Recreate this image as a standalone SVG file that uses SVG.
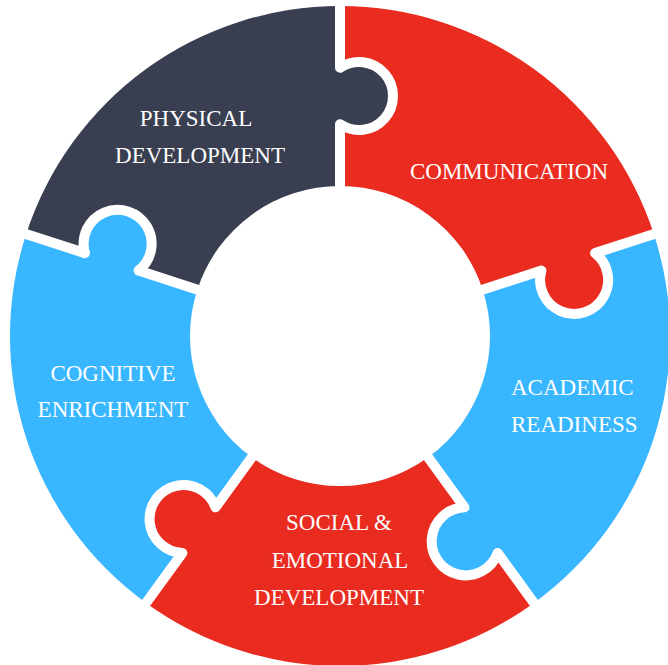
<svg xmlns="http://www.w3.org/2000/svg" width="668" height="665" viewBox="0 0 668 665">
<style>
.dark{fill:#393e51}
.red{fill:#ea2b1f}
.blue{fill:#38b6ff}
.lbl{font-family:"Liberation Serif","Times New Roman",serif;font-size:23px;fill:#ffffff}
.sep{fill:none;stroke:#ffffff;stroke-width:10;stroke-linejoin:round;stroke-linecap:butt}
</style>
<rect width="668" height="665" fill="#ffffff"/>
<g id="communication">
<path class="red" d="M340,6 A330,330 0 0 1 653.85,234.02 L595.07,253.12 A34,34 0 1 1 541.43,270.55 L482.66,289.65 A150,150 0 0 0 340,186 L340,124.2 A34,34 0 1 0 340,67.8 Z"/>
<text class="lbl" x="509" y="179" text-anchor="middle">COMMUNICATION</text>
</g>
<g id="academic-readiness">
<path class="blue" d="M653.85,234.02 A330,330 0 0 1 533.97,602.98 L497.64,552.98 A34,34 0 1 1 464.49,507.35 L428.17,457.35 A150,150 0 0 0 482.66,289.65 L541.43,270.55 A34,34 0 1 0 595.07,253.12 Z"/>
<text class="lbl" x="511" y="395">ACADEMIC</text>
<text class="lbl" x="511" y="432">READINESS</text>
</g>
<g id="social-emotional">
<path class="red" d="M533.97,602.98 A330,330 0 0 1 146.03,602.98 L182.36,552.98 A34,34 0 1 1 215.51,507.35 L251.83,457.35 A150,150 0 0 0 428.17,457.35 L464.49,507.35 A34,34 0 1 0 497.64,552.98 Z"/>
<text class="lbl" x="339" y="530" text-anchor="middle">SOCIAL &amp;</text>
<text class="lbl" x="340" y="568" text-anchor="middle">EMOTIONAL</text>
<text class="lbl" x="339" y="605" text-anchor="middle">DEVELOPMENT</text>
</g>
<g id="cognitive-enrichment">
<path class="blue" d="M146.03,602.98 A330,330 0 0 1 26.15,234.02 L84.93,253.12 A34,34 0 1 1 138.57,270.55 L197.34,289.65 A150,150 0 0 0 251.83,457.35 L215.51,507.35 A34,34 0 1 0 182.36,552.98 Z"/>
<text class="lbl" x="113" y="381" text-anchor="middle">COGNITIVE</text>
<text class="lbl" x="113" y="417" text-anchor="middle">ENRICHMENT</text>
</g>
<g id="physical-development">
<path class="dark" d="M26.15,234.02 A330,330 0 0 1 340,6 L340,67.8 A34,34 0 1 1 340,124.2 L340,186 A150,150 0 0 0 197.34,289.65 L138.57,270.55 A34,34 0 1 0 84.93,253.12 Z"/>
<text class="lbl" x="196" y="126" text-anchor="middle">PHYSICAL</text>
<text class="lbl" x="200" y="163" text-anchor="middle">DEVELOPMENT</text>
</g>
<g id="connectors">
<path class="sep" d="M340,-9 L340,67.8 A34,34 0 1 1 340,124.2 L340,196"/>
<path class="sep" d="M668.11,229.39 L595.07,253.12 A34,34 0 1 1 541.43,270.55 L473.15,292.74"/>
<path class="sep" d="M542.79,615.11 L497.64,552.98 A34,34 0 1 1 464.49,507.35 L422.29,449.26"/>
<path class="sep" d="M137.21,615.11 L182.36,552.98 A34,34 0 1 1 215.51,507.35 L257.71,449.26"/>
<path class="sep" d="M11.89,229.39 L84.93,253.12 A34,34 0 1 1 138.57,270.55 L206.85,292.74"/>
</g>
</svg>
